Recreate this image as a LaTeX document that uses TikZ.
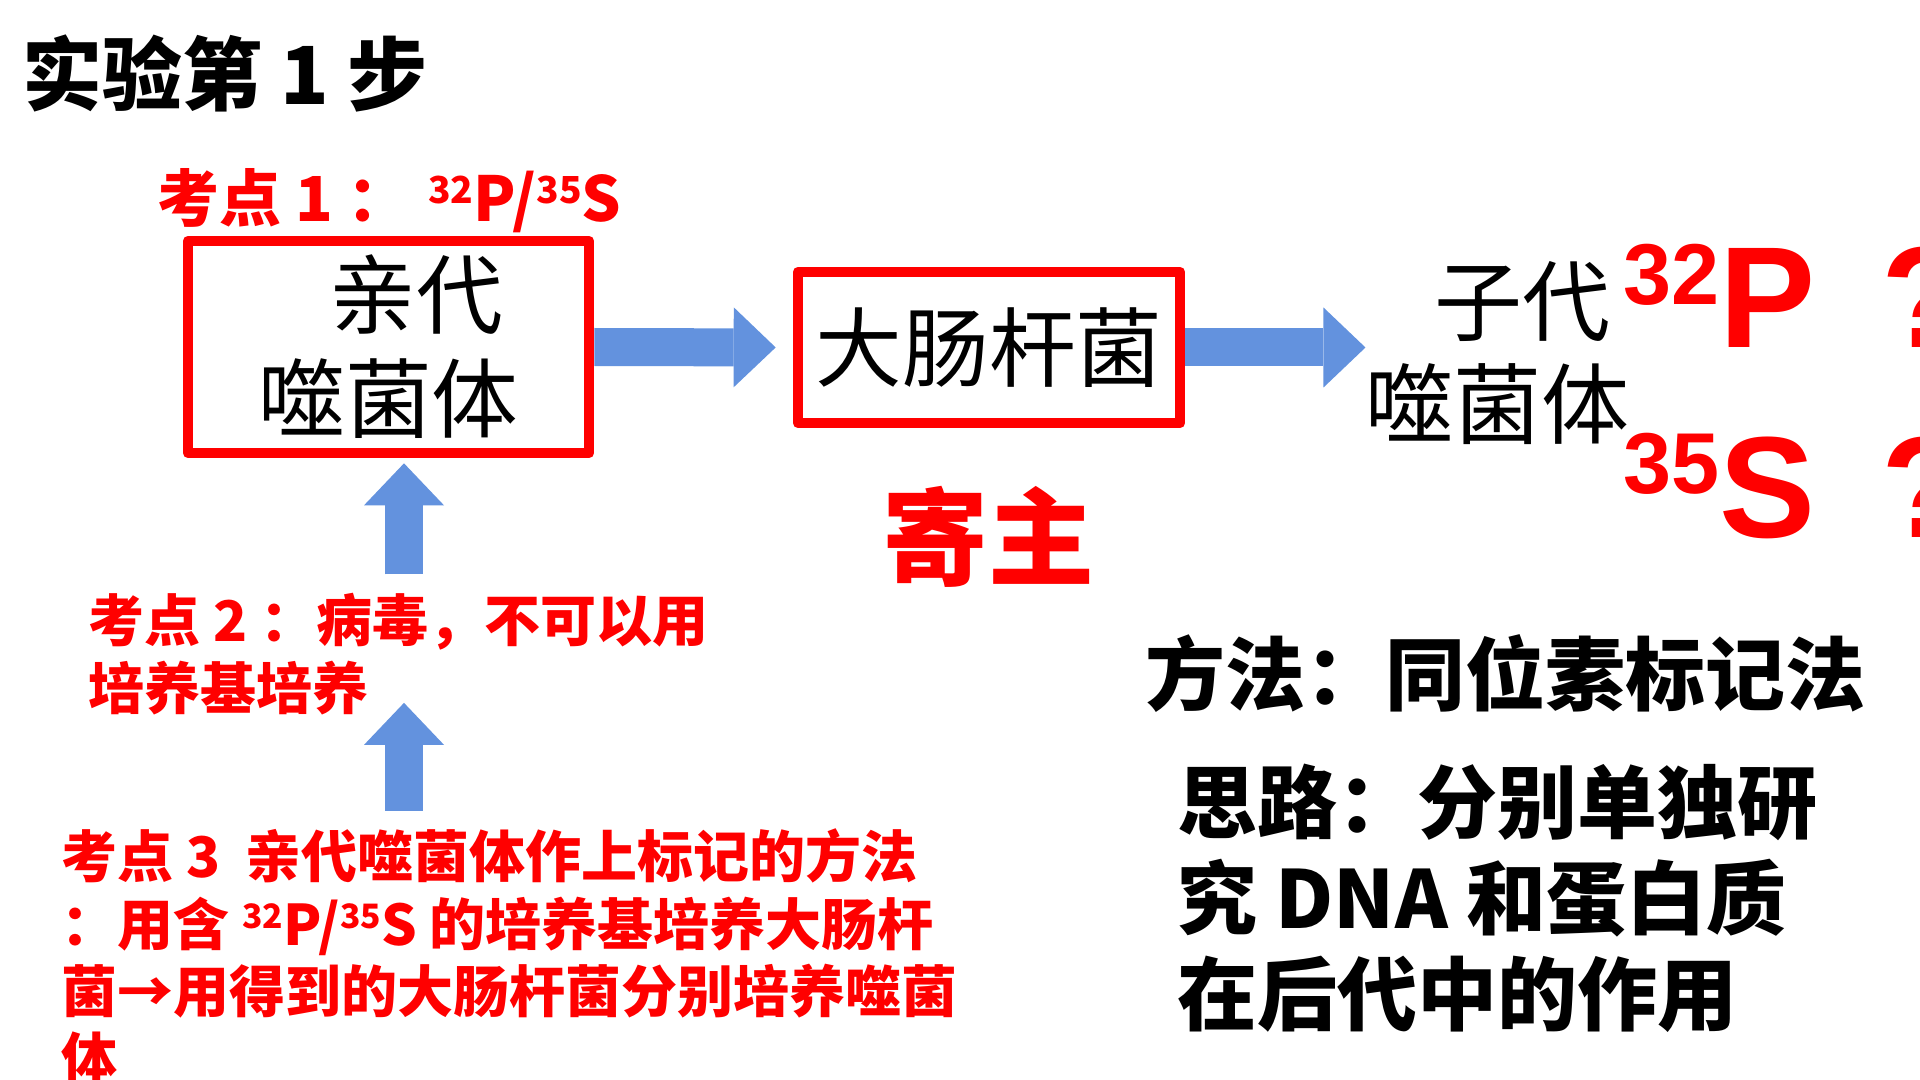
\documentclass[tikz,border=0pt]{standalone}
\usepackage{fontspec}
\newfontfamily\cjk{Noto Sans CJK SC}
\newfontfamily\arialb{Liberation Sans}
\usetikzlibrary{arrows.meta, calc}
\definecolor{arrowblue}{RGB}{99,146,222}
\newcommand{\iso}[2]{\raisebox{0.3em}{\scalebox{0.6}{#1}}#2}

\begin{document}
\begin{tikzpicture}[x=0.75pt, y=-0.75pt, line join=round,
	redbox/.style={draw=red, line width=8pt, inner sep=0pt, font=\cjk\fontsize{65pt}{78pt}\selectfont},
	blk/.style={draw=arrowblue, line width=28.5pt,
		-{Triangle[length=31.5pt, width=60pt, line width=0pt]}},
	kd/.style={text=red, inner sep=0pt, align=left, anchor=west,
		font=\cjk\bfseries\fontsize{42pt}{50.5pt}\selectfont},
	bigiso/.style={text=red, inner sep=0pt, anchor=base west,
		font=\arialb\bfseries\fontsize{108pt}{120pt}\selectfont}]

\fill[white] (0,0) rectangle (1920,1080);
\useasboundingbox (0,0) rectangle (1920,1080);

% ==== Top: title ====
\node[inner sep=0pt, anchor=west, font=\cjk\bfseries\fontsize{60pt}{72pt}\selectfont]
	(title) at (22,74) {实验第 1 步};

% ==== Row: parent -> host -> offspring ====
\node[redbox, minimum width=300.75pt, minimum height=159pt, align=left]
	(parent) at (388.5,347) {\hspace*{0.82em}亲代\\噬菌体};
\node[text=red, inner sep=0pt, anchor=west, font=\cjk\bfseries\fontsize{46.5pt}{56pt}\selectfont]
	(kd1) at (157,201) {考点 1 ：\hspace{0.3em}\iso{32}{P}/\iso{35}{S}};

\node[redbox, minimum width=286.5pt, minimum height=113.25pt]
	(host) at (989,347.5) {大肠杆菌};
\node[text=red, inner sep=0pt, font=\cjk\bfseries\fontsize{79.5pt}{90pt}\selectfont]
	(hostlbl) at (988,537) {寄主};

\node[inner sep=0pt, anchor=east, align=right, font=\cjk\fontsize{66pt}{77pt}\selectfont]
	(offspring) at (1630,353) {子代\hspace*{0.22em}\\噬菌体};
\node[bigiso] (p32) at (1623,348) {\iso{32}{P}};
\node[bigiso] (s35) at (1623,537) {\iso{35}{S}};
\node[bigiso] (q1) at (1881,348) {?};
\node[bigiso] (q2) at (1881,537) {?};

\draw[blk, shorten >=12.75pt] (parent.east) -- (host.west);
\draw[blk] (host.east) -- (host.east -| offspring.west);

% ==== Left column: key points ====
\node[kd] (kd2) at (88,654) {考点 2 ：病毒，不可以用\\培养基培养};
\node[kd] (kd3) at (61,957)
	{考点 3\ \ 亲代噬菌体作上标记的方法\\：用含 \iso{32}{P}/\iso{35}{S} 的培养基培养大肠杆\\菌→用得到的大肠杆菌分别培养噬菌\\体};

\coordinate (upx) at (404,0);
\draw[blk, shorten <=14pt, shorten >=3.75pt] (kd2.north -| upx) -- (parent.south -| upx);
\draw[blk, shorten <=13.5pt, shorten >=-9pt] (kd3.north -| upx) -- (kd2.south -| upx);

% ==== Right: method ====
\node[inner sep=0pt, anchor=west, font=\cjk\bfseries\fontsize{60pt}{72pt}\selectfont]
	(method) at (1145,674) {方法：同位素标记法};
\node[inner sep=0pt, anchor=west, align=left, font=\cjk\bfseries\fontsize{60pt}{72pt}\selectfont]
	(idea) at (1177,898) {思路：分别单独研\\究 DNA 和蛋白质\\在后代中的作用};

\end{tikzpicture}
\end{document}
